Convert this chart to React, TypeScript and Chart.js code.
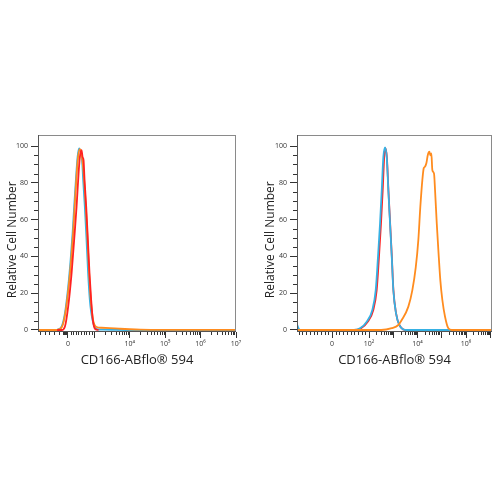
import React, { useEffect, useRef } from "react";
import { Chart, registerables } from "chart.js";
Chart.register(...registerables);

// ---------- data (x in display units of the biexponential axis, y in % of max) ----------
const yTickValues = [0, 20, 40, 60, 80, 100];
const yMinorTicks = [5, 10, 15, 25, 30, 35, 45, 50, 55, 65, 70, 75, 85, 90, 95];

const leftXTickValues = [2.254, 3, 4, 5, 6, 7];
const leftXTickLabels = ["0", "", "10⁴", "10⁵", "10⁶", "10⁷"];
const rightXTickValues = [0.474, 2, 3, 4, 5, 6, 7];
const rightXTickLabels = ["0", "10²", "", "10⁴", "", "10⁶", ""];

const leftBlueX = [1.41, 1.8, 1.935, 2.076, 2.169, 2.262, 2.33, 2.386, 2.431, 2.479, 2.527, 2.572, 2.62, 2.655, 2.685, 2.732, 2.78, 2.825, 2.873, 2.949, 3.062, 3.2, 3.5, 4.0, 7.0];
const leftBlueY = [0, 0, 0, 1.8, 9, 23.5, 38, 52.5, 67, 81.5, 94, 98.7, 96, 92, 81.5, 67, 49, 30.8, 16.3, 5.4, 0.5, 0.2, 0.1, 0, 0];

const leftOrangeX = [1.41, 1.8, 1.95, 2.09, 2.18, 2.275, 2.345, 2.4, 2.445, 2.49, 2.54, 2.592, 2.63, 2.665, 2.713, 2.761, 2.808, 2.854, 2.901, 2.966, 3.062, 3.2, 3.437, 3.7, 4.0, 4.3, 5.0, 7.0];
const leftOrangeY = [0, 0, 0, 1.8, 9, 23.5, 38, 52.5, 67, 81.5, 94, 98.3, 96.5, 92, 81.5, 67, 49, 30.8, 16.3, 5.4, 1.6, 1.2, 1.0, 0.7, 0.4, 0.2, 0.1, 0.1];

const leftRedX = [1.95, 2.076, 2.169, 2.262, 2.358, 2.431, 2.499, 2.555, 2.592, 2.639, 2.668, 2.696, 2.724, 2.771, 2.818, 2.864, 2.911, 2.959, 3.024, 3.12];
const leftRedY = [0, 0, 1.8, 12.7, 30.8, 49, 67, 85, 94, 97.8, 94, 92.4, 81.5, 67, 49, 30.8, 16.3, 5.4, 0.5, 0];

const rightBlueX = [-0.97, -0.89, -0.8, 0.8, 1.353, 1.629, 1.905, 2.136, 2.276, 2.371, 2.454, 2.524, 2.59, 2.66, 2.73, 2.796, 2.866, 2.936, 3.002, 3.113, 3.249, 3.555, 4.5, 7.07];
const rightBlueY = [3, 0.5, 0, 0, 0, 0.9, 4.5, 10.9, 21.7, 40, 58, 76, 94, 99.3, 94, 76, 58, 40, 21.7, 9, 2.7, 0, 0, 0];

const rightRedX = [-0.97, 0.8, 1.39, 1.67, 1.945, 2.176, 2.316, 2.411, 2.494, 2.564, 2.625, 2.67, 2.735, 2.8, 2.87, 2.94, 3.005, 3.115, 3.25, 3.555, 7.07];
const rightRedY = [0, 0, 0, 0.9, 4.5, 10.9, 21.7, 40, 58, 76, 94, 98.9, 94, 76, 58, 40, 21.7, 9, 2.7, 0, 0];

const rightOrangeX = [-0.97, 2.5, 2.936, 3.208, 3.348, 3.621, 3.786, 3.926, 4.033, 4.115, 4.198, 4.256, 4.309, 4.363, 4.421, 4.487, 4.528, 4.569, 4.61, 4.68, 4.722, 4.792, 4.858, 4.94, 5.023, 5.134, 5.27, 5.41, 7.07];
const rightOrangeY = [0, 0, 1, 2.7, 5.4, 12.7, 21.7, 34, 49, 67, 81.5, 88, 88.8, 90.6, 95, 96.9, 95, 96, 87, 85, 76, 58, 43.5, 27, 16.3, 7.2, 0.9, 0, 0];

const xTitle = "CD166-ABflo® 594";
const yTitle = "Relative Cell Number";

// ---------- styling ----------
const BLUE = "#36b1e4";
const RED = "#ff2222";
const ORANGE = "#ff8c1f";
const FONT = "'Open Sans', 'Noto Sans', sans-serif";

function decadeMinors(from: number, to: number): number[] {
  const out: number[] = [];
  for (let k = from; k < to; k++) {
    for (let m = 2; m <= 9; m++) out.push(k + Math.log10(m));
  }
  return out;
}

function linearMinors(center: number, step: number, count: number, sides: number[]): number[] {
  const out: number[] = [];
  for (const s of sides) for (let j = 1; j <= count; j++) out.push(center + s * step * j);
  return out;
}

const leftXMinor = [
  ...decadeMinors(3, 7),
  ...linearMinors(2.254, 0.0746, 9, [1]),
  ...linearMinors(2.254, 0.02, 7, [-1]),
  ...linearMinors(2.254, 0.13, 6, [-1]),
];
const rightXMinor = [...decadeMinors(2, 7), ...linearMinors(0.474, 0.1526, 9, [1, -1])];

const framePlugin = {
  id: "frame",
  afterDraw(chart: any, _args: any, opts: any) {
    const { ctx, chartArea: a, scales } = chart;
    ctx.save();
    ctx.strokeStyle = "#8a8a8a";
    ctx.lineWidth = 1;
    ctx.strokeRect(Math.round(a.left) + 0.5, Math.round(a.top) + 0.5, Math.round(a.right - a.left) - 1, Math.round(a.bottom - a.top) - 1);
    ctx.strokeStyle = "#555";
    ctx.beginPath();
    ctx.moveTo(Math.round(a.left) + 0.5, a.top);
    ctx.lineTo(Math.round(a.left) + 0.5, a.bottom);
    ctx.moveTo(a.left, Math.round(a.bottom) - 0.5);
    ctx.lineTo(a.right, Math.round(a.bottom) - 0.5);
    ctx.stroke();
    ctx.strokeStyle = "#333";
    ctx.beginPath();
    for (const v of opts.xMinor || []) {
      const px = Math.round(scales.x.getPixelForValue(v)) + 0.5;
      if (px < a.left || px > a.right) continue;
      ctx.moveTo(px, a.bottom);
      ctx.lineTo(px, a.bottom + 3);
    }
    for (const v of opts.yMinor || []) {
      const py = Math.round(scales.y.getPixelForValue(v)) + 0.5;
      ctx.moveTo(a.left, py);
      ctx.lineTo(a.left - 4, py);
    }
    ctx.stroke();
    ctx.restore();
  },
};

function makeDataset(xs: number[], ys: number[], color: string) {
  return {
    data: xs.map((x, i) => ({ x, y: ys[i] })),
    borderColor: color,
    backgroundColor: color,
    borderWidth: 1.8,
    pointRadius: 0,
    cubicInterpolationMode: "monotone" as const,
    fill: false,
  };
}

interface PanelProps {
  datasets: any[];
  xMin: number;
  xMax: number;
  xTickValues: number[];
  xTickLabels: string[];
  xMinor: number[];
  yAxisWidth: number;
  rightPad: number;
  yTitlePad: number;
  left: number;
}

function Panel(p: PanelProps) {
  const ref = useRef<HTMLCanvasElement | null>(null);
  useEffect(() => {
    if (!ref.current) return;
    const chart = new Chart(ref.current, {
      type: "line",
      data: { datasets: p.datasets },
      plugins: [framePlugin as any],
      options: {
        responsive: false,
        animation: false,
        layout: { padding: { left: 0, right: p.rightPad, top: 15, bottom: 0 } },
        plugins: {
          legend: { display: false },
          tooltip: { enabled: false },
          frame: { xMinor: p.xMinor, yMinor: yMinorTicks },
        } as any,
        scales: {
          x: {
            type: "linear",
            min: p.xMin,
            max: p.xMax,
            afterBuildTicks: (s: any) => {
              s.ticks = p.xTickValues.map((v) => ({ value: v }));
            },
            afterFit: (s: any) => {
              s.height = 48;
            },
            ticks: {
              autoSkip: false,
              maxRotation: 0,
              padding: 2,
              color: "#333",
              font: { size: 7, family: FONT },
              callback: (_v: any, i: number) => p.xTickLabels[i],
            },
            grid: { drawOnChartArea: false, tickLength: 6, tickColor: "#333" },
            border: { display: false },
            title: {
              display: true,
              text: xTitle,
              color: "#222",
              font: { size: 13, family: FONT },
              padding: { top: 0, bottom: 12 },
            },
          },
          y: {
            type: "linear",
            min: -1.1,
            max: 106,
            afterBuildTicks: (s: any) => {
              s.ticks = yTickValues.map((v) => ({ value: v }));
            },
            afterFit: (s: any) => {
              s.width = p.yAxisWidth;
            },
            ticks: { padding: 3, color: "#333", font: { size: 7, family: FONT } },
            grid: { drawOnChartArea: false, tickLength: 7, tickColor: "#333" },
            border: { display: false },
            title: {
              display: true,
              text: yTitle + "    ",
              color: "#222",
              font: { size: 12, family: FONT },
              padding: { top: p.yTitlePad, bottom: 0 },
            },
          },
        },
      },
    });
    return () => chart.destroy();
  }, []);
  return (
    <canvas
      ref={ref}
      width={250}
      height={260}
      style={{ position: "absolute", left: p.left, top: 120, width: 250, height: 260, display: "block" }}
    />
  );
}

// Chart.js paints the first dataset on top, so the topmost curve comes first.
export default function App() {
  return (
    <div style={{ position: "absolute", left: 0, top: 0, width: 500, height: 500, background: "#fff" }}>
      <Panel
        left={0}
        datasets={[
          makeDataset(leftRedX, leftRedY, RED),
          makeDataset(leftOrangeX, leftOrangeY, ORANGE),
          makeDataset(leftBlueX, leftBlueY, BLUE),
        ]}
        xMin={1.41}
        xMax={7}
        xTickValues={leftXTickValues}
        xTickLabels={leftXTickLabels}
        xMinor={leftXMinor}
        yAxisWidth={38}
        rightPad={14}
        yTitlePad={5}
      />
      <Panel
        left={250}
        datasets={[
          makeDataset(rightOrangeX, rightOrangeY, ORANGE),
          makeDataset(rightBlueX, rightBlueY, BLUE),
          makeDataset(rightRedX, rightRedY, RED),
        ]}
        xMin={-0.97}
        xMax={7.07}
        xTickValues={rightXTickValues}
        xTickLabels={rightXTickLabels}
        xMinor={rightXMinor}
        yAxisWidth={47}
        rightPad={8}
        yTitlePad={13}
      />
    </div>
  );
}
